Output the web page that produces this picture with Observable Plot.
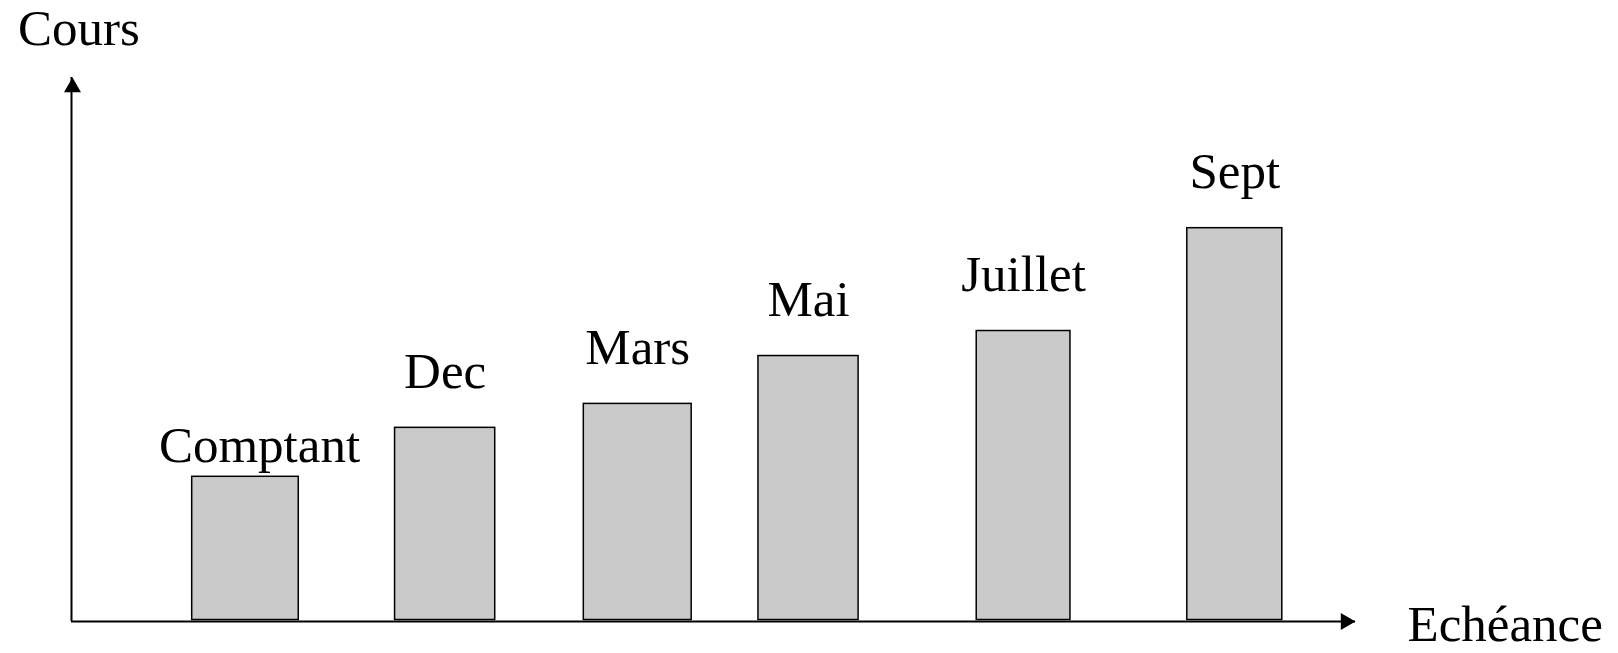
<!DOCTYPE html>
<html>
<head>
<meta charset="utf-8">
<script src="https://cdn.jsdelivr.net/npm/d3@7"></script>
<script src="https://cdn.jsdelivr.net/npm/@observablehq/plot@0.6"></script>
<style>
  html, body { margin: 0; padding: 0; background: #fff; }
  #chart svg { display: block; }
</style>
</head>
<body>
<div id="chart"></div>
<script>
// Contrats (catégories) et cours (unités arbitraires)
const categories = ["Comptant", "Dec", "Mars", "Mai", "Juillet", "Sept"];
const cours = [26.6, 35.6, 40.0, 48.8, 53.4, 72.3];
// Étendue de chaque contrat sur l'axe des échéances (unités arbitraires 0–100)
const debut = [9.4, 25.2, 39.9, 53.5, 70.5, 86.9];
const fin = [17.7, 33.0, 48.3, 61.3, 77.8, 94.3];
// Titres des axes
const titreX = "Echéance";
const titreY = "Cours";

const data = categories.map((c, i) => ({contrat: c, cours: cours[i], debut: debut[i], fin: fin[i]}));
const FONT = "'Liberation Serif', 'Times New Roman', serif";
const FS = 51;
const centre = d => (d.debut + d.fin) / 2;

const chart = Plot.plot({
  width: 1618,
  height: 653,
  margin: 0,
  style: {background: "#fff", fontFamily: FONT},
  x: {domain: [0, 100], range: [71, 1355], axis: null},
  y: {domain: [0, 100], range: [621, 77], axis: null},
  marks: [
    Plot.rect(data, {
      x1: "debut", x2: "fin", y1: 0, y2: "cours",
      fill: "#cacaca", stroke: "#000", strokeWidth: 1.5, insetBottom: 1.5
    }),
    // axes
    Plot.ruleY([0], {x1: 0, x2: 100, stroke: "#000", strokeWidth: 2.2}),
    Plot.ruleX([0], {y1: 0, y2: 100, stroke: "#000", strokeWidth: 2}),
    Plot.dot([0], {x: 100, y: 0, symbol: "triangle", r: 6.3, fill: "#000", rotate: 90, dx: -9.8}),
    Plot.dot([0], {x: 0, y: 100, symbol: "triangle", r: 6.3, fill: "#000", dy: 9.8, dx: 1}),
    // étiquettes des barres
    Plot.text(data.filter(d => d.contrat !== "Comptant"), {
      x: centre, y: "cours", text: "contrat",
      textAnchor: "middle", lineAnchor: "bottom", dy: -40,
      fontSize: FS, fontFamily: FONT, fill: "#000"
    }),
    Plot.text(data.filter(d => d.contrat === "Comptant"), {
      x: centre, y: "cours", text: "contrat",
      textAnchor: "middle", lineAnchor: "bottom", dy: -14.3, dx: 14,
      fontSize: FS, fontFamily: FONT, fill: "#000"
    }),
    // titres des axes
    Plot.text([titreY], {
      x: 0, y: 100, text: d => d,
      textAnchor: "middle", lineAnchor: "bottom", dx: 7.3, dy: -33,
      fontSize: FS, fontFamily: FONT, fill: "#000"
    }),
    Plot.text([titreX], {
      x: 100, y: 0, text: d => d,
      textAnchor: "start", lineAnchor: "bottom", dx: 52, dy: 19,
      fontSize: FS, fontFamily: FONT, fill: "#000"
    })
  ]
});
document.getElementById("chart").appendChild(chart);
</script>
</body>
</html>
